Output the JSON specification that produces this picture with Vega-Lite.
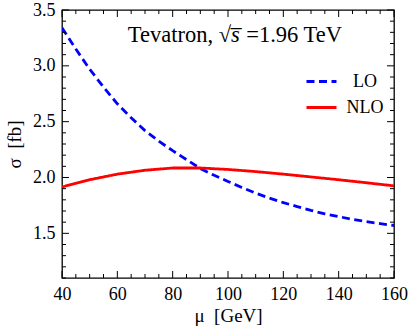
{
  "$schema": "https://vega.github.io/schema/vega-lite/v6.json",
  "autosize": {"type": "none"},
  "padding": {"left": 62, "top": 10, "right": 15, "bottom": 56},
  "width": 332,
  "height": 268,
  "background": "white",
  "config": {
    "font": "Liberation Serif",
    "view": {"stroke": "black", "strokeWidth": 1.3},
    "axis": {
      "domain": false, "grid": false, "ticks": false,
      "labelColor": "black", "titleColor": "black",
      "labelFont": "Liberation Serif", "titleFont": "Liberation Serif",
      "labelFontSize": 18, "titleFontSize": 19, "titleFontWeight": "normal",
      "labelFlush": false, "labelOverlap": false, "labelBound": false
    },
    "legend": {
      "orient": "none", "legendX": 243, "legendY": 55, "padding": 0,
      "symbolType": "stroke", "symbolSize": 900, "symbolStrokeWidth": 3,
      "labelFont": "Liberation Serif", "labelFontSize": 18, "labelColor": "black",
      "labelAlign": "center", "labelOffset": 27, "rowPadding": -12
    }
  },
  "datasets": {
    "xmajor": [{"v": 40}, {"v": 60}, {"v": 80}, {"v": 100}, {"v": 120}, {"v": 140}, {"v": 160}],
    "xminor": [{"v": 45}, {"v": 50}, {"v": 55}, {"v": 65}, {"v": 70}, {"v": 75}, {"v": 85}, {"v": 90}, {"v": 95}, {"v": 105}, {"v": 110}, {"v": 115}, {"v": 125}, {"v": 130}, {"v": 135}, {"v": 145}, {"v": 150}, {"v": 155}],
    "ymajor": [{"v": 1.5}, {"v": 2.0}, {"v": 2.5}, {"v": 3.0}, {"v": 3.5}],
    "yminor": [{"v": 1.1}, {"v": 1.2}, {"v": 1.3}, {"v": 1.4}, {"v": 1.6}, {"v": 1.7}, {"v": 1.8}, {"v": 1.9}, {"v": 2.1}, {"v": 2.2}, {"v": 2.3}, {"v": 2.4}, {"v": 2.6}, {"v": 2.7}, {"v": 2.8}, {"v": 2.9}, {"v": 3.1}, {"v": 3.2}, {"v": 3.3}, {"v": 3.4}],
    "curves": [
      {"mu": 40, "sigma": 3.34, "order": "LO"},
      {"mu": 45, "sigma": 3.15, "order": "LO"},
      {"mu": 50, "sigma": 2.97, "order": "LO"},
      {"mu": 55, "sigma": 2.81, "order": "LO"},
      {"mu": 60, "sigma": 2.66, "order": "LO"},
      {"mu": 65, "sigma": 2.535, "order": "LO"},
      {"mu": 70, "sigma": 2.42, "order": "LO"},
      {"mu": 75, "sigma": 2.325, "order": "LO"},
      {"mu": 80, "sigma": 2.24, "order": "LO"},
      {"mu": 85, "sigma": 2.16, "order": "LO"},
      {"mu": 90, "sigma": 2.08, "order": "LO"},
      {"mu": 95, "sigma": 2.02, "order": "LO"},
      {"mu": 100, "sigma": 1.965, "order": "LO"},
      {"mu": 105, "sigma": 1.91, "order": "LO"},
      {"mu": 110, "sigma": 1.86, "order": "LO"},
      {"mu": 115, "sigma": 1.815, "order": "LO"},
      {"mu": 120, "sigma": 1.775, "order": "LO"},
      {"mu": 125, "sigma": 1.74, "order": "LO"},
      {"mu": 130, "sigma": 1.705, "order": "LO"},
      {"mu": 135, "sigma": 1.675, "order": "LO"},
      {"mu": 140, "sigma": 1.65, "order": "LO"},
      {"mu": 145, "sigma": 1.625, "order": "LO"},
      {"mu": 150, "sigma": 1.605, "order": "LO"},
      {"mu": 155, "sigma": 1.587, "order": "LO"},
      {"mu": 160, "sigma": 1.57, "order": "LO"},
      {"mu": 40, "sigma": 1.915, "order": "NLO"},
      {"mu": 50, "sigma": 1.98, "order": "NLO"},
      {"mu": 60, "sigma": 2.03, "order": "NLO"},
      {"mu": 70, "sigma": 2.065, "order": "NLO"},
      {"mu": 80, "sigma": 2.085, "order": "NLO"},
      {"mu": 90, "sigma": 2.085, "order": "NLO"},
      {"mu": 100, "sigma": 2.072, "order": "NLO"},
      {"mu": 110, "sigma": 2.053, "order": "NLO"},
      {"mu": 120, "sigma": 2.03, "order": "NLO"},
      {"mu": 130, "sigma": 2.005, "order": "NLO"},
      {"mu": 140, "sigma": 1.98, "order": "NLO"},
      {"mu": 150, "sigma": 1.953, "order": "NLO"},
      {"mu": 160, "sigma": 1.925, "order": "NLO"}
    ]
  },
  "layer": [
    {
      "data": {"name": "curves"},
      "mark": {"type": "line", "strokeWidth": 2.8, "clip": true},
      "encoding": {
        "x": {
          "field": "mu", "type": "quantitative",
          "scale": {"domain": [40, 160], "nice": false, "zero": false},
          "axis": {
            "orient": "bottom", "title": "μ\u00a0\u00a0[GeV]",
            "values": [40, 60, 80, 100, 120, 140, 160],
            "labelPadding": 7, "titlePadding": 3
          }
        },
        "y": {
          "field": "sigma", "type": "quantitative",
          "scale": {"domain": [1.1, 3.5], "nice": false, "zero": false},
          "axis": {
            "orient": "left", "title": "σ\u00a0\u00a0[fb]", "format": ".1f",
            "values": [1.5, 2.0, 2.5, 3.0, 3.5],
            "labelPadding": 7, "titlePadding": 8
          }
        },
        "color": {
          "field": "order", "type": "nominal",
          "scale": {"domain": ["LO", "NLO"], "range": ["#0000ff", "#ff0000"]},
          "legend": {"title": null}
        },
        "strokeDash": {
          "field": "order", "type": "nominal",
          "scale": {"domain": ["LO", "NLO"], "range": [[8, 4.5], [1, 0]]},
          "legend": {"title": null}
        }
      }
    },
    {
      "data": {"name": "xmajor"},
      "mark": {"type": "rule", "color": "black", "strokeWidth": 1},
      "encoding": {
        "x": {"field": "v", "type": "quantitative", "axis": null},
        "y": {"datum": 1.1, "type": "quantitative", "axis": null},
        "y2": {"datum": 1.1627}
      }
    },
    {
      "data": {"name": "xminor"},
      "mark": {"type": "rule", "color": "black", "strokeWidth": 1},
      "encoding": {
        "x": {"field": "v", "type": "quantitative", "axis": null},
        "y": {"datum": 1.1, "type": "quantitative", "axis": null},
        "y2": {"datum": 1.1358}
      }
    },
    {
      "data": {"name": "xmajor"},
      "mark": {"type": "rule", "color": "black", "strokeWidth": 1},
      "encoding": {
        "x": {"field": "v", "type": "quantitative", "axis": null},
        "y": {"datum": 3.5, "type": "quantitative", "axis": null},
        "y2": {"datum": 3.4373}
      }
    },
    {
      "data": {"name": "xminor"},
      "mark": {"type": "rule", "color": "black", "strokeWidth": 1},
      "encoding": {
        "x": {"field": "v", "type": "quantitative", "axis": null},
        "y": {"datum": 3.5, "type": "quantitative", "axis": null},
        "y2": {"datum": 3.4642}
      }
    },
    {
      "data": {"name": "ymajor"},
      "mark": {"type": "rule", "color": "black", "strokeWidth": 1},
      "encoding": {
        "y": {"field": "v", "type": "quantitative", "axis": null},
        "x": {"datum": 40, "type": "quantitative", "axis": null},
        "x2": {"datum": 42.53}
      }
    },
    {
      "data": {"name": "yminor"},
      "mark": {"type": "rule", "color": "black", "strokeWidth": 1},
      "encoding": {
        "y": {"field": "v", "type": "quantitative", "axis": null},
        "x": {"datum": 40, "type": "quantitative", "axis": null},
        "x2": {"datum": 41.446}
      }
    },
    {
      "data": {"name": "ymajor"},
      "mark": {"type": "rule", "color": "black", "strokeWidth": 1},
      "encoding": {
        "y": {"field": "v", "type": "quantitative", "axis": null},
        "x": {"datum": 160, "type": "quantitative", "axis": null},
        "x2": {"datum": 157.47}
      }
    },
    {
      "data": {"name": "yminor"},
      "mark": {"type": "rule", "color": "black", "strokeWidth": 1},
      "encoding": {
        "y": {"field": "v", "type": "quantitative", "axis": null},
        "x": {"datum": 160, "type": "quantitative", "axis": null},
        "x2": {"datum": 158.554}
      }
    },
    {
      "data": {"values": [{"part": "Tevatron, √", "mu": 101.1, "sigma": 3.213}]},
      "mark": {"type": "text", "font": "Liberation Serif", "fontSize": 22.5, "baseline": "alphabetic", "align": "right", "color": "black"},
      "encoding": {
        "x": {"field": "mu", "type": "quantitative", "axis": null},
        "y": {"field": "sigma", "type": "quantitative", "axis": null},
        "text": {"field": "part"}
      }
    },
    {
      "data": {"values": [{"part": "s̅", "mu": 101.1, "sigma": 3.213}]},
      "mark": {"type": "text", "font": "Liberation Serif", "fontSize": 22.5, "fontStyle": "italic", "baseline": "alphabetic", "align": "left", "color": "black"},
      "encoding": {
        "x": {"field": "mu", "type": "quantitative", "axis": null},
        "y": {"field": "sigma", "type": "quantitative", "axis": null},
        "text": {"field": "part"}
      }
    },
    {
      "data": {"values": [{"part": "=1.96 TeV", "mu": 106.6, "sigma": 3.213}]},
      "mark": {"type": "text", "font": "Liberation Serif", "fontSize": 22.5, "baseline": "alphabetic", "align": "left", "color": "black"},
      "encoding": {
        "x": {"field": "mu", "type": "quantitative", "axis": null},
        "y": {"field": "sigma", "type": "quantitative", "axis": null},
        "text": {"field": "part"}
      }
    }
  ],
  "resolve": {"axis": {"x": "independent", "y": "independent"}}
}
